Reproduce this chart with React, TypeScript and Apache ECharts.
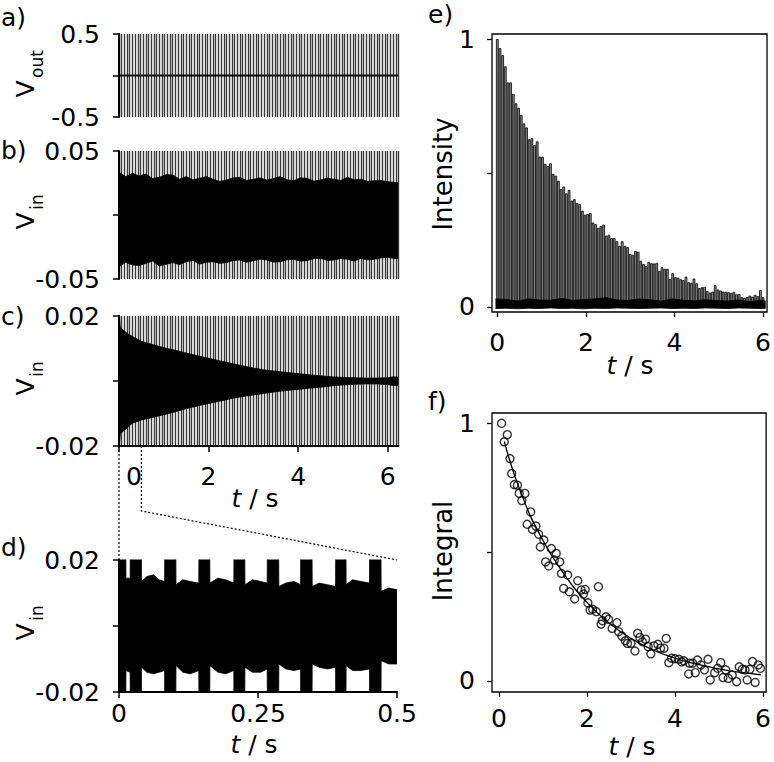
import React, { useEffect, useRef } from "react";
import * as echarts from "echarts";

const FONT = "DejaVu Sans";

// ---- panel a/b/c common time range and pulse period (s) ----
const T_MAX = 6.23;
const PULSE_PERIOD = 0.06;

// ---- a) V_out baseline ----
const A_T = [0, 6.23];
const A_V = [0, 0];

// ---- b) V_in envelope (noise, no sample) ----
const B_T = [0, 0.15, 0.3, 0.45, 0.6, 0.75, 0.9, 1.05, 1.2, 1.35, 1.5, 1.65, 1.8, 1.95, 2.1, 2.25, 2.4, 2.55, 2.7, 2.85, 3.0, 3.15, 3.3, 3.45, 3.6, 3.75, 3.9, 4.05, 4.2, 4.35, 4.5, 4.65, 4.8, 4.95, 5.1, 5.25, 5.4, 5.55, 5.7, 5.85, 6.0, 6.15, 6.23];
const B_UP = [0.0333, 0.030, 0.0326, 0.0305, 0.032, 0.0285, 0.0294, 0.0315, 0.0313, 0.028, 0.030, 0.0275, 0.0287, 0.030, 0.0279, 0.0262, 0.0273, 0.029, 0.0294, 0.027, 0.0279, 0.029, 0.0273, 0.0285, 0.030, 0.0275, 0.0268, 0.029, 0.0287, 0.0265, 0.0273, 0.0288, 0.0279, 0.027, 0.0294, 0.0275, 0.0279, 0.0262, 0.0268, 0.027, 0.026, 0.0255, 0.0253];
const B_LO = [-0.0404, -0.037, -0.039, -0.0395, -0.0378, -0.036, -0.0398, -0.0385, -0.0372, -0.0388, -0.0365, -0.0355, -0.0383, -0.037, -0.0365, -0.0378, -0.0372, -0.0355, -0.0352, -0.037, -0.0357, -0.0345, -0.0352, -0.0368, -0.0365, -0.035, -0.0346, -0.036, -0.0357, -0.034, -0.0339, -0.0355, -0.0352, -0.034, -0.0346, -0.036, -0.0339, -0.035, -0.0346, -0.0335, -0.0331, -0.034, -0.0339];

// ---- c) V_in envelope (decaying) ----
const C_T = [0, 0.03, 0.15, 0.3, 0.5, 0.75, 1.05, 1.25, 1.5, 1.75, 2.0, 2.25, 2.55, 2.75, 3.0, 3.25, 3.5, 3.75, 4.05, 4.25, 4.5, 4.75, 5.0, 5.25, 5.5, 5.75, 6.0, 6.13, 6.23];
const C_UP = [0.021, 0.0165, 0.015, 0.0137, 0.0122, 0.0112, 0.0101, 0.0095, 0.0086, 0.0078, 0.007, 0.0062, 0.0053, 0.0047, 0.004, 0.0034, 0.003, 0.0026, 0.0022, 0.0019, 0.0016, 0.0013, 0.0011, 0.001, 0.0009, 0.0009, 0.001, 0.0013, 0.0012];
const C_LO = [-0.021, -0.0162, -0.0148, -0.013, -0.012, -0.0112, -0.0102, -0.0095, -0.0085, -0.0077, -0.0069, -0.0062, -0.0053, -0.0048, -0.0043, -0.0038, -0.0033, -0.0029, -0.0025, -0.0022, -0.0019, -0.0015, -0.0012, -0.001, -0.0009, -0.0009, -0.0011, -0.0014, -0.0013];

// ---- d) V_in zoom 0-0.5 s envelope ----
const D_T = [0, 0.012, 0.0125, 0.02, 0.0205, 0.04, 0.0405, 0.05, 0.062, 0.072, 0.082, 0.0825, 0.102, 0.1025, 0.115, 0.128, 0.1435, 0.144, 0.163, 0.1635, 0.178, 0.192, 0.2065, 0.207, 0.226, 0.2265, 0.24, 0.255, 0.2665, 0.267, 0.287, 0.2875, 0.3, 0.315, 0.3265, 0.327, 0.347, 0.3475, 0.36, 0.375, 0.3895, 0.39, 0.408, 0.4085, 0.42, 0.435, 0.4505, 0.451, 0.471, 0.4715, 0.485, 0.5];
const D_UP = [0.03, 0.03, 0.0145, 0.0145, 0.03, 0.03, 0.0135, 0.015, 0.0155, 0.014, 0.0135, 0.03, 0.03, 0.0125, 0.014, 0.0135, 0.013, 0.03, 0.03, 0.013, 0.0145, 0.014, 0.013, 0.03, 0.03, 0.0125, 0.014, 0.0135, 0.013, 0.03, 0.03, 0.012, 0.013, 0.0135, 0.0125, 0.03, 0.03, 0.012, 0.013, 0.0125, 0.012, 0.03, 0.03, 0.0125, 0.014, 0.0135, 0.013, 0.03, 0.03, 0.0105, 0.0115, 0.011];
const D_LO = [-0.03, -0.03, -0.0135, -0.014, -0.03, -0.03, -0.0125, -0.014, -0.0145, -0.014, -0.0135, -0.03, -0.03, -0.012, -0.014, -0.0145, -0.0135, -0.03, -0.03, -0.012, -0.014, -0.0145, -0.0135, -0.03, -0.03, -0.0125, -0.014, -0.014, -0.013, -0.03, -0.03, -0.0115, -0.013, -0.0135, -0.013, -0.03, -0.03, -0.0115, -0.0125, -0.013, -0.0125, -0.03, -0.03, -0.012, -0.0135, -0.0135, -0.013, -0.03, -0.03, -0.0105, -0.0115, -0.0115];

// ---- e) Intensity per pulse (one per PULSE_PERIOD, starting at t = 0) ----
const INTENSITY = [
  1.0, 0.966, 0.94, 0.898, 0.838, 0.838, 0.795, 0.76, 0.743, 0.716,
  0.685, 0.67, 0.626, 0.63, 0.604, 0.618, 0.561, 0.561, 0.534, 0.526,
  0.536, 0.496, 0.49, 0.471, 0.44, 0.449, 0.424, 0.437, 0.397, 0.402,
  0.388, 0.384, 0.359, 0.344, 0.347, 0.35, 0.315, 0.309, 0.295, 0.302,
  0.307, 0.266, 0.269, 0.257, 0.257, 0.245, 0.228, 0.245, 0.228, 0.223,
  0.198, 0.194, 0.209, 0.206, 0.172, 0.16, 0.152, 0.168, 0.163, 0.162,
  0.164, 0.134, 0.148, 0.142, 0.142, 0.104, 0.126, 0.111, 0.109, 0.103,
  0.1, 0.113, 0.092, 0.09, 0.106, 0.088, 0.07, 0.073, 0.075, 0.059,
  0.053, 0.057, 0.081, 0.065, 0.061, 0.057, 0.056, 0.055, 0.052, 0.056,
  0.047, 0.048, 0.036, 0.034, 0.037, 0.042, 0.038, 0.045, 0.04, 0.063,
  0.036,
];
const NOISE_T = [-0.04, 0.2, 0.45, 0.7, 0.95, 1.2, 1.45, 1.7, 1.95, 2.2, 2.45, 2.7, 2.95, 3.2, 3.45, 3.7, 3.95, 4.2, 4.45, 4.7, 4.95, 5.2, 5.45, 5.7, 5.95, 6.06];
const NOISE_UP = [0.03, 0.028, 0.022, 0.03, 0.026, 0.025, 0.032, 0.024, 0.028, 0.03, 0.035, 0.026, 0.024, 0.03, 0.027, 0.022, 0.03, 0.025, 0.023, 0.027, 0.024, 0.022, 0.026, 0.02, 0.025, 0.022];
const NOISE_LO = [-0.006, -0.005, -0.007, -0.005, -0.006, -0.004, -0.006, -0.005, -0.007, -0.005, -0.006, -0.004, -0.005, -0.006, -0.005, -0.004, -0.006, -0.005, -0.006, -0.004, -0.005, -0.006, -0.004, -0.005, -0.006, -0.005];

// ---- f) Integral points and fit ----
const INTEGRAL_T = [0.06, 0.12, 0.19, 0.25, 0.29, 0.35, 0.42, 0.46, 0.52, 0.59, 0.64, 0.72, 0.76, 0.84, 0.9, 0.94, 1.02, 1.06, 1.13, 1.19, 1.26, 1.3, 1.38, 1.42, 1.47, 1.56, 1.6, 1.72, 1.79, 1.87, 1.92, 1.96, 2.02, 2.07, 2.13, 2.21, 2.26, 2.32, 2.35, 2.43, 2.49, 2.57, 2.68, 2.72, 2.79, 2.87, 2.92, 3.0, 3.09, 3.15, 3.2, 3.26, 3.33, 3.39, 3.45, 3.52, 3.61, 3.67, 3.75, 3.8, 3.86, 3.92, 4.0, 4.09, 4.15, 4.2, 4.31, 4.33, 4.4, 4.46, 4.51, 4.59, 4.67, 4.75, 4.8, 4.9, 4.97, 5.04, 5.09, 5.15, 5.21, 5.3, 5.4, 5.46, 5.53, 5.59, 5.64, 5.7, 5.76, 5.82, 5.89, 5.94];
const INTEGRAL_V = [1.0, 0.928, 0.956, 0.863, 0.805, 0.762, 0.76, 0.728, 0.7, 0.728, 0.608, 0.656, 0.588, 0.601, 0.57, 0.52, 0.547, 0.462, 0.446, 0.514, 0.469, 0.495, 0.462, 0.417, 0.359, 0.411, 0.346, 0.318, 0.389, 0.353, 0.337, 0.355, 0.303, 0.275, 0.278, 0.269, 0.366, 0.22, 0.234, 0.249, 0.239, 0.204, 0.226, 0.191, 0.174, 0.156, 0.146, 0.146, 0.116, 0.185, 0.169, 0.152, 0.162, 0.133, 0.105, 0.136, 0.142, 0.127, 0.127, 0.165, 0.071, 0.088, 0.086, 0.084, 0.074, 0.078, 0.027, 0.069, 0.069, 0.032, 0.081, 0.062, 0.043, 0.084, 0.004, 0.032, 0.049, 0.071, 0.013, 0.043, 0.01, 0.023, -0.003, 0.055, 0.045, 0.043, 0.004, 0.045, 0.075, -0.006, 0.062, 0.049];
const FIT_T = [0.12, 0.5, 1, 1.5, 2, 2.5, 3, 3.5, 4, 4.5, 5, 5.5, 5.95];
const FIT_V = [0.93, 0.73, 0.545, 0.41, 0.305, 0.225, 0.165, 0.12, 0.088, 0.065, 0.047, 0.033, 0.024];

const zip = (xs: number[], ys: number[]) => xs.map((x, i) => [x, ys[i]]);

const BLACK = "#000";
const axisLine = { show: true, onZero: false, lineStyle: { color: BLACK, width: 2 } };
const tick = { show: true, length: 6, lineStyle: { color: BLACK, width: 1.5 } };
const lbl = { color: BLACK, fontFamily: FONT, fontSize: 25 };
const noZero = (digits: number) => (v: number) => (Math.abs(v) < 1e-9 ? "" : v.toFixed(digits));

function pulseAxis(gridIndex: number) {
  return {
    type: "value", gridIndex, min: 0, max: T_MAX, interval: PULSE_PERIOD, position: "top",
    axisLine: { show: false, onZero: false }, axisTick: { show: false }, axisLabel: { show: false },
    splitLine: { show: true, lineStyle: { color: "#3a3a3a", width: 1.4 } },
  };
}

function leftY(gridIndex: number, lim: number, digits: number) {
  return {
    type: "value", gridIndex, min: -lim, max: lim, interval: lim,
    axisLine, axisTick: tick,
    axisLabel: { ...lbl, margin: 19, formatter: noZero(digits) },
    splitLine: { show: false },
  };
}

function envelope(xi: number, yi: number, t: number[], v: number[]) {
  return {
    type: "line", xAxisIndex: xi, yAxisIndex: yi, data: zip(t, v), symbol: "none", silent: true,
    lineStyle: { color: BLACK, width: 0.8 }, areaStyle: { color: BLACK, opacity: 1 },
  };
}

export default function App() {
  const ref = useRef<HTMLDivElement>(null);
  useEffect(() => {
    if (!ref.current) return;
    const chart = echarts.init(ref.current, null, { renderer: "svg" });
    const boxGrid = { show: true, borderColor: BLACK, borderWidth: 1.3, backgroundColor: "transparent" };
    const option: any = {
      animation: false,
      grid: [
        { left: 119, top: 34, width: 279, height: 83 },
        { left: 119, top: 151, width: 279, height: 128 },
        { left: 119, top: 316, width: 279, height: 130 },
        { left: 119, top: 560, width: 278, height: 132 },
        { left: 492, top: 34, width: 276, height: 278, ...boxGrid },
        { left: 492, top: 413, width: 276, height: 279, ...boxGrid },
      ],
      xAxis: [
        pulseAxis(0),
        pulseAxis(1),
        pulseAxis(2),
        {
          type: "value", gridIndex: 2, min: 0, max: T_MAX, interval: 2, position: "bottom",
          axisLine, axisTick: tick, splitLine: { show: false },
          axisLabel: {
            ...lbl, margin: 18,
            formatter: (v: number) => (v === 0 ? "{z|0}" : String(v)),
            rich: { z: { padding: [0, 0, 0, 30], fontSize: 25, fontFamily: FONT, color: BLACK } },
          },
        },
        {
          type: "value", gridIndex: 3, min: 0, max: 0.5, interval: 0.25, position: "bottom",
          axisLine, axisTick: tick, splitLine: { show: false },
          axisLabel: { ...lbl, margin: 9, formatter: (v: number) => String(v) },
        },
        {
          type: "value", gridIndex: 4, min: -0.12, max: 6.09, position: "bottom",
          axisLine: { show: false, onZero: false },
          axisTick: { show: true, length: 5, lineStyle: { color: BLACK, width: 1.3 }, customValues: [0, 2, 4, 6] },
          axisLabel: { ...lbl, margin: 18, customValues: [0, 2, 4, 6] },
          splitLine: { show: false },
        },
        {
          type: "value", gridIndex: 5, min: -0.158, max: 6.07, position: "bottom",
          axisLine: { show: false, onZero: false },
          axisTick: { show: true, length: 5, lineStyle: { color: BLACK, width: 1.3 }, customValues: [0, 2, 4, 6] },
          axisLabel: { ...lbl, margin: 14, customValues: [0, 2, 4, 6] },
          splitLine: { show: false },
        },
      ],
      yAxis: [
        leftY(0, 0.5, 1),
        leftY(1, 0.05, 2),
        leftY(2, 0.02, 2),
        leftY(3, 0.02, 2),
        {
          type: "value", gridIndex: 4, min: -0.019, max: 1.019,
          axisLine: { show: false, onZero: false },
          axisTick: { show: true, length: 5, lineStyle: { color: BLACK, width: 1.3 }, customValues: [0, 0.5, 1] },
          axisLabel: { ...lbl, margin: 17, customValues: [0, 1] },
          splitLine: { show: false },
        },
        {
          type: "value", gridIndex: 5, min: -0.043, max: 1.04,
          axisLine: { show: false, onZero: false },
          axisTick: { show: true, length: 5, lineStyle: { color: BLACK, width: 1.3 }, customValues: [0, 0.5, 1] },
          axisLabel: { ...lbl, margin: 17, customValues: [0, 1] },
          splitLine: { show: false },
        },
      ],
      series: [
        {
          type: "line", xAxisIndex: 0, yAxisIndex: 0, data: zip(A_T, A_V), symbol: "none", silent: true,
          lineStyle: { color: BLACK, width: 2 },
        },
        envelope(1, 1, B_T, B_UP),
        envelope(1, 1, B_T, B_LO),
        envelope(3, 2, C_T, C_UP),
        envelope(3, 2, C_T, C_LO),
        envelope(4, 3, D_T, D_UP),
        envelope(4, 3, D_T, D_LO),
        {
          type: "bar", xAxisIndex: 5, yAxisIndex: 4, silent: true, barWidth: 2.67,
          data: INTENSITY.map((v, i) => [i * PULSE_PERIOD, v]),
          itemStyle: { color: "#8c8c8c", borderColor: BLACK, borderWidth: 0.8 },
        },
        envelope(5, 4, NOISE_T, NOISE_UP),
        envelope(5, 4, NOISE_T, NOISE_LO),
        {
          type: "scatter", xAxisIndex: 6, yAxisIndex: 5, silent: true, symbol: "circle", symbolSize: 8,
          data: zip(INTEGRAL_T, INTEGRAL_V),
          itemStyle: { color: "transparent", borderColor: BLACK, borderWidth: 1.4 },
        },
        {
          type: "line", xAxisIndex: 6, yAxisIndex: 5, silent: true, smooth: true, symbol: "none",
          data: zip(FIT_T, FIT_V), lineStyle: { color: BLACK, width: 1.3 },
        },
      ],
    };
    chart.setOption(option);

    const px = (xi: number, yi: number, p: number[]) =>
      chart.convertToPixel({ xAxisIndex: xi, yAxisIndex: yi } as any, p) as number[];
    const c0 = px(3, 2, [0, -0.02]);
    const c1 = px(3, 2, [0.5, -0.02]);
    const d0 = px(4, 3, [0, 0.02]);
    const d1 = px(4, 3, [0.5, 0.02]);
    const dotted = { stroke: BLACK, lineWidth: 1.2, lineDash: [2, 2], fill: null };

    const txt = (text: string, x: number, y: number, size: number, extra: any = {}) => ({
      type: "text", x, y, silent: true, ...extra,
      style: {
        text, fontSize: size, fontFamily: FONT, fill: BLACK,
        align: extra.align || "center", verticalAlign: "middle", ...(extra.style || {}),
      },
    });
    const rot = { rotation: Math.PI / 2 };
    const tsRich = { rich: { i: { fontStyle: "italic", fontSize: 25, fontFamily: FONT, fill: BLACK } } };

    const graphic: any[] = [
      { type: "polyline", silent: true, shape: { points: [c0, d0] }, style: dotted },
      { type: "polyline", silent: true, shape: { points: [c1, [c1[0], c1[1] + 65], d1] }, style: dotted },
      // panel letters
      txt("a)", 1, 17, 25, { align: "left" }),
      txt("b)", 1, 150, 25, { align: "left" }),
      txt("c)", 1, 316, 25, { align: "left" }),
      txt("d)", 1, 547, 25, { align: "left" }),
      txt("e)", 428, 14, 25, { align: "left" }),
      txt("f)", 428, 401, 25, { align: "left" }),
      // y titles
      txt("V", 25, 89, 25, rot),
      txt("out", 37, 64, 17, rot),
      txt("V", 25, 221, 25, rot),
      txt("in", 37, 202, 17, rot),
      txt("V", 25, 387, 25, rot),
      txt("in", 37, 369, 17, rot),
      txt("V", 25, 632, 25, rot),
      txt("in", 37, 613, 17, rot),
      txt("Intensity", 443, 174, 26, rot),
      txt("Integral", 443, 551, 26, rot),
      // x titles
      txt("{i|t} / s", 255, 498, 25, { style: tsRich }),
      txt("{i|t} / s", 254, 744, 25, { style: tsRich }),
      txt("{i|t} / s", 630, 365, 25, { style: tsRich }),
      txt("{i|t} / s", 632, 746, 25, { style: tsRich }),
    ];
    chart.setOption({ graphic });

    return () => chart.dispose();
  }, []);
  return <div ref={ref} style={{ position: "fixed", left: 0, top: 0, width: 774, height: 762, background: "#fff" }} />;
}
